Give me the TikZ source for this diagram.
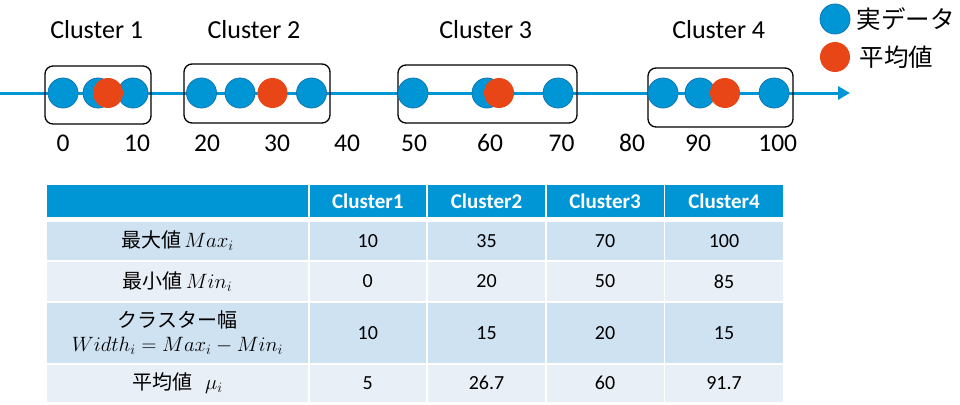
\documentclass[tikz,border=0pt]{standalone}
\usepackage{fontspec}
\setmainfont{Carlito}
\newfontfamily\jp{Noto Sans CJK JP}
\usetikzlibrary{arrows.meta}
\definecolor{cblue}{RGB}{0,150,214}
\definecolor{cblueedge}{RGB}{16,118,178}
\definecolor{cred}{RGB}{232,70,22}
\definecolor{hdr}{RGB}{0,150,214}
\definecolor{rowA}{RGB}{207,226,242}
\definecolor{rowB}{RGB}{233,239,246}
\begin{document}
\begin{tikzpicture}[x=1pt,y=-1pt,
  dat/.style={circle, fill=cblue, draw=cblueedge, line width=0.8pt, minimum size=30pt, inner sep=0pt},
  avg/.style={circle, fill=cred, minimum size=30pt, inner sep=0pt},
  clbox/.style={draw=black, line width=1.3pt, rounded corners=8pt, inner sep=0pt},
  toplbl/.style={font=\fontsize{26}{30}\selectfont, anchor=base, inner sep=0pt},
  numlbl/.style={font=\fontsize{25.5}{30}\selectfont, anchor=base, inner sep=0pt},
  leglbl/.style={font=\jp\fontsize{24.5}{28}\selectfont, anchor=west, inner sep=0pt},
  cell/.style={inner sep=0pt, outer sep=0pt, align=center, font=\fontsize{20}{25}\selectfont, text=black},
  hcell/.style={cell, fill=hdr, text=white, font=\bfseries\fontsize{21}{25}\selectfont},
  axis/.style={draw=cblue, line width=3pt, -{Triangle[length=12pt,width=13pt]}}
]
\useasboundingbox (0,0) rectangle (960,404);

% axis
\coordinate (axL) at (0,93);
\coordinate (axR) at (850,93);
\draw[axis] (axL) -- (axR);

% cluster boxes
\node[clbox, minimum width=106pt, minimum height=58pt] (box1) at (98,95) {};
\node[clbox, minimum width=146pt, minimum height=59pt] (box2) at (257,93.5) {};
\node[clbox, minimum width=179pt, minimum height=58pt] (box3) at (487.5,94) {};
\node[clbox, minimum width=145pt, minimum height=59pt] (box4) at (720.5,97.5) {};

% data points
\node[dat] (d11) at (63,93) {};
\node[dat] (d12) at (98,93) {};
\node[dat] (d13) at (133,93) {};
\node[avg] (m1) at (108,93) {};
\node[dat] (d21) at (201.5,93) {};
\node[dat] (d22) at (240,93) {};
\node[dat] (d23) at (311.5,93) {};
\node[avg] (m2) at (272.5,93) {};
\node[dat] (d31) at (413,93) {};
\node[dat] (d32) at (487,93) {};
\node[dat] (d33) at (558,93) {};
\node[avg] (m3) at (499,93) {};
\node[dat] (d41) at (663,93) {};
\node[dat] (d42) at (700,93) {};
\node[dat] (d43) at (774,93) {};
\node[avg] (m4) at (725,93) {};

% cluster titles
\node[toplbl] (t1) at (96.7,38.3) {Cluster 1};
\node[toplbl] (t2) at (254,38.3) {Cluster 2};
\node[toplbl] (t3) at (485.7,38.3) {Cluster 3};
\node[toplbl] (t4) at (718.7,38.3) {Cluster 4};

% axis numbers
\node[numlbl] (n0) at (63,151.7) {0};
\node[numlbl] (n10) at (137,151.7) {10};
\node[numlbl] (n20) at (207,151.7) {20};
\node[numlbl] (n30) at (277,151.7) {30};
\node[numlbl] (n40) at (347,151.7) {40};
\node[numlbl] (n50) at (414,151.7) {50};
\node[numlbl] (n60) at (490,151.7) {60};
\node[numlbl] (n70) at (561.5,151.7) {70};
\node[numlbl] (n80) at (632,151.7) {80};
\node[numlbl] (n90) at (698,151.7) {90};
\node[numlbl] (n100) at (777.7,151.7) {100};

% legend
\node[dat] (ld) at (835,19) {};
\node[avg] (la) at (835,57) {};
\node[leglbl] (ldt) at (856.5,19) {実データ};
\node[leglbl] (lat) at (859.5,57) {平均値};

% table header
\node[hcell, minimum width=261pt, minimum height=32pt] (h0) at (177.5,201) {};
\node[hcell, minimum width=116.5pt, minimum height=32pt] (h1) at (367.75,201) {Cluster1};
\node[hcell, minimum width=117pt, minimum height=32pt] (h2) at (486.5,201) {Cluster2};
\node[hcell, minimum width=117pt, minimum height=32pt] (h3) at (605,201) {Cluster3};
\node[hcell, minimum width=118pt, minimum height=32pt] (h4) at (724,201) {Cluster4};

% row 1
\node[cell, fill=rowA, minimum width=261pt, minimum height=38pt] (r1c0) at (177.5,241) {{\jp 最大値}\hspace{3pt}$Max_i$};
\node[cell, fill=rowA, minimum width=116.5pt, minimum height=38pt] (r1c1) at (367.75,241) {10};
\node[cell, fill=rowA, minimum width=117pt, minimum height=38pt] (r1c2) at (486.5,241) {35};
\node[cell, fill=rowA, minimum width=117pt, minimum height=38pt] (r1c3) at (605,241) {70};
\node[cell, fill=rowA, minimum width=118pt, minimum height=38pt] (r1c4) at (724,241) {100};

% row 2
\node[cell, fill=rowB, minimum width=261pt, minimum height=39pt] (r2c0) at (177.5,281.5) {{\jp 最小値}\hspace{3pt}$Min_i$};
\node[cell, fill=rowB, minimum width=116.5pt, minimum height=39pt] (r2c1) at (367.75,281.5) {0};
\node[cell, fill=rowB, minimum width=117pt, minimum height=39pt] (r2c2) at (486.5,281.5) {20};
\node[cell, fill=rowB, minimum width=117pt, minimum height=39pt] (r2c3) at (605,281.5) {50};
\node[cell, fill=rowB, minimum width=118pt, minimum height=39pt] (r2c4) at (724,281.5) {85};

% row 3
\node[cell, fill=rowA, minimum width=261pt, minimum height=60.5pt] (r3c0) at (177.5,332.75) {{\jp クラスター幅}\\[-1pt]$Width_i=Max_i-Min_i$};
\node[cell, fill=rowA, minimum width=116.5pt, minimum height=60.5pt] (r3c1) at (367.75,332.75) {10};
\node[cell, fill=rowA, minimum width=117pt, minimum height=60.5pt] (r3c2) at (486.5,332.75) {15};
\node[cell, fill=rowA, minimum width=117pt, minimum height=60.5pt] (r3c3) at (605,332.75) {20};
\node[cell, fill=rowA, minimum width=118pt, minimum height=60.5pt] (r3c4) at (724,332.75) {15};

% row 4
\node[cell, fill=rowB, minimum width=261pt, minimum height=37.5pt] (r4c0) at (177.5,383.25) {{\jp 平均値}\hspace{13pt}$\mu_i$};
\node[cell, fill=rowB, minimum width=116.5pt, minimum height=37.5pt] (r4c1) at (367.75,383.25) {5};
\node[cell, fill=rowB, minimum width=117pt, minimum height=37.5pt] (r4c2) at (486.5,383.25) {26.7};
\node[cell, fill=rowB, minimum width=117pt, minimum height=37.5pt] (r4c3) at (605,383.25) {60};
\node[cell, fill=rowB, minimum width=118pt, minimum height=37.5pt] (r4c4) at (724,383.25) {91.7};
\end{tikzpicture}
\end{document}
